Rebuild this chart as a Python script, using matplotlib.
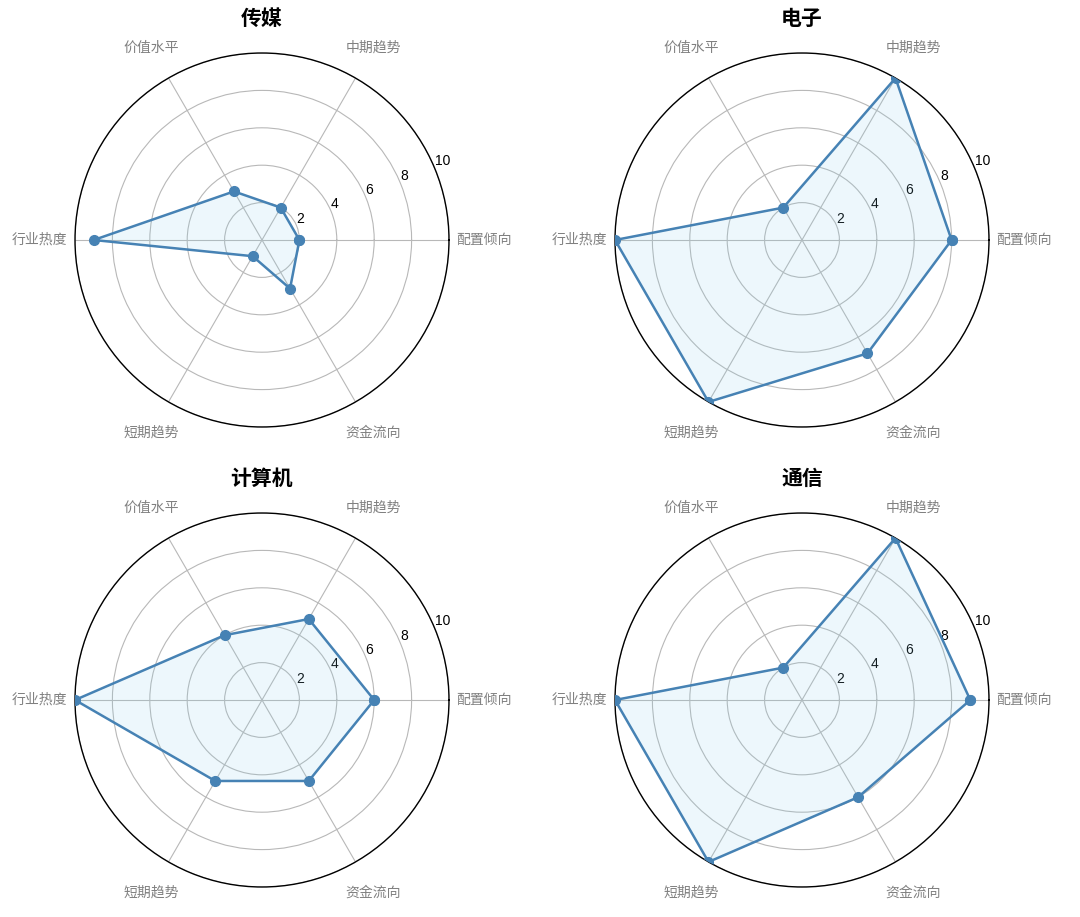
import matplotlib
matplotlib.use('Agg')
import matplotlib.pyplot as plt
import numpy as np

plt.rcParams['font.family'] = ['Liberation Sans', 'Noto Sans CJK SC', 'DejaVu Sans']

categories = ['配置倾向', '中期趋势', '价值水平', '行业热度', '短期趋势', '资金流向']
industries = ['传媒', '电子', '计算机', '通信']

media_scores = [2, 2, 3, 9, 1, 3]
electronics_scores = [8, 10, 2, 10, 10, 7]
computer_scores = [6, 5, 4, 10, 5, 5]
telecom_scores = [9, 10, 2, 10, 10, 6]

all_scores = [media_scores, electronics_scores, computer_scores, telecom_scores]

angles = np.linspace(0, 2 * np.pi, len(categories), endpoint=False)

fig = plt.figure(figsize=(10.8, 9.17), dpi=100)

# circle centres in pixels, radius ~187px
centres = [(262, 240), (802, 240), (262, 700), (802, 700)]
R = 187
W, H = 1080, 917

for (cx, cy), name, scores in zip(centres, industries, all_scores):
    ax = fig.add_axes([(cx - R) / W, 1 - (cy + R) / H, 2 * R / W, 2 * R / H], polar=True)
    vals = np.concatenate([scores, scores[:1]])
    ang = np.concatenate([angles, angles[:1]])
    ax.fill(ang, vals, color='skyblue', alpha=0.15, zorder=2)
    ax.plot(ang, vals, color='steelblue', linewidth=1.8, marker='o', markersize=7, zorder=3)
    ax.set_ylim(0, 10)
    ax.set_yticks([2, 4, 6, 8, 10])
    ax.set_yticklabels(['2', '4', '6', '8', '10'], fontsize=10, color='black')
    ax.set_xticks(angles)
    ax.set_xticklabels(categories, fontsize=10, color='#808080')
    ax.tick_params(axis='x', pad=15)
    ax.grid(color='#b8b8b8', linewidth=0.8)
    ax.spines['polar'].set_color('black')
    ax.spines['polar'].set_linewidth(1.0)
    ax.set_title(name, fontsize=15, fontweight='bold', pad=20)

fig.savefig('out.png', dpi=100)
